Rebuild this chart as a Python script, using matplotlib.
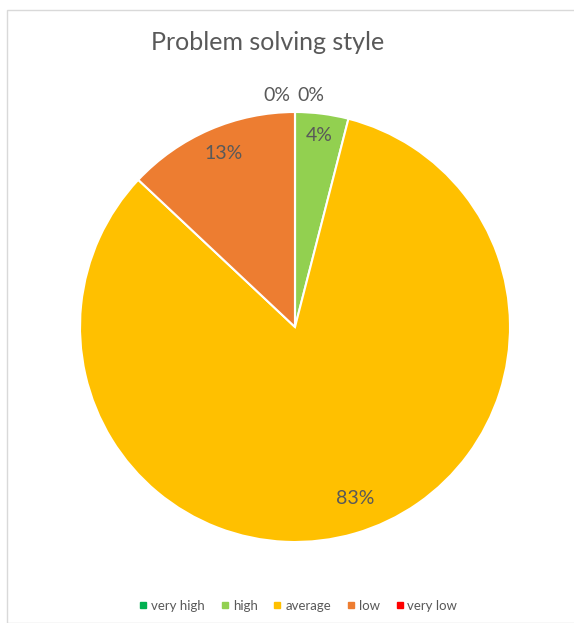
import matplotlib
matplotlib.use("Agg")
import matplotlib.pyplot as plt
import numpy as np
from matplotlib.patches import Rectangle
from matplotlib.lines import Line2D

categories = ["very high", "high", "average", "low", "very low"]
values = [0, 4, 83, 13, 0]
labels = ["0%", "4%", "83%", "13%", "0%"]
colors = ["#00B050", "#92D050", "#FFC000", "#ED7D31", "#FF0000"]
title = "Problem solving style"

plt.rcParams['font.family'] = ['Lato', 'DejaVu Sans']
txt = "#595959"

fig = plt.figure(figsize=(5.74, 6.23), dpi=100)
fig.patches.append(Rectangle((7 / 574, 0), 1.2, 1 - 10 / 623, transform=fig.transFigure,
                             fill=False, edgecolor="#D9D9D9", linewidth=1.0))

ax = fig.add_axes([80 / 574, 81 / 623, 430 / 574, 430 / 623])
wedges, _ = ax.pie(values, colors=colors, startangle=90, counterclock=False,
                   wedgeprops=dict(edgecolor="white", linewidth=1.5), radius=1)
ax.set_xlim(-1, 1)
ax.set_ylim(-1, 1)

dist = {1: 0.9, 2: 0.845, 3: 0.875}
shift = {1: 0.0, 2: 3.0, 3: -1.0}
for i, w in enumerate(wedges):
    if values[i] == 0:
        continue
    ang = np.deg2rad((w.theta1 + w.theta2) / 2 + shift.get(i, 0))
    r = dist.get(i, 0.85)
    ax.text(r * np.cos(ang), r * np.sin(ang), labels[i], ha="center", va="center",
            fontsize=14, color=txt)
# zero-value labels placed above the top of the pie
ax.text(-0.085, 1.075, labels[4], ha="center", va="center", fontsize=14, color=txt)
ax.text(0.075, 1.075, labels[0], ha="center", va="center", fontsize=14, color=txt)

fig.text(268 / 574, 1 - 42 / 623, title, ha="center", va="center", fontsize=18, color=txt)

handles = [Line2D([0], [0], marker="s", linestyle="none", markersize=5,
                  markerfacecolor=c, markeredgecolor=c) for c in colors]
fig.legend(handles, categories, loc="center", bbox_to_anchor=(297 / 574, 1 - 606 / 623),
           ncol=5, frameon=False, fontsize=9.5, labelcolor=txt, handletextpad=0.1,
           columnspacing=1.0, handlelength=1.0)

fig.savefig("out.png", dpi=100)
